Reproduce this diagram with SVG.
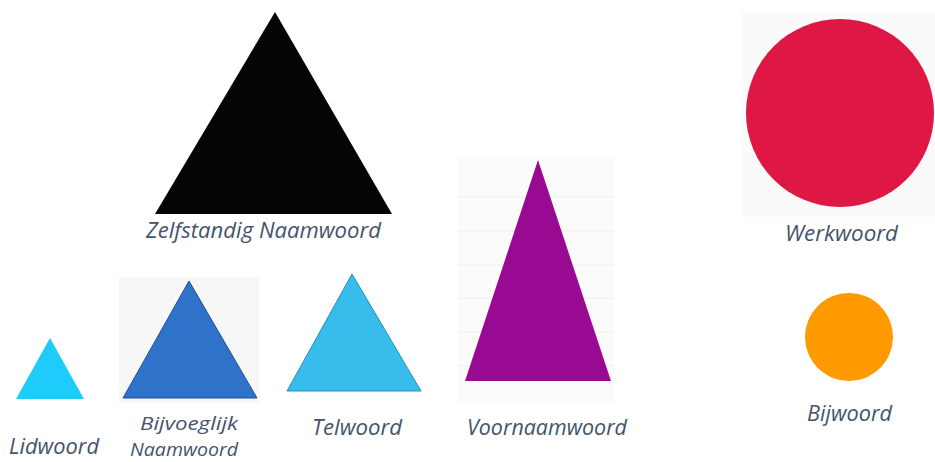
<svg xmlns="http://www.w3.org/2000/svg" width="935" height="462" viewBox="0 0 935 462">
<style>
  .lbl { font-family: "Open Sans", "Liberation Sans", sans-serif; font-style: italic; font-size: 21px; fill: #44546A; }
  .sm { font-size: 19px; }
  .bg { fill: #F7F7F7; }
  .paper-line { stroke: #EEEEEE; stroke-width: 1; }
</style>
<rect width="935" height="462" fill="#FFFFFF"/>

<g id="zelfstandig-naamwoord">
  <polygon points="275,12 155,214 392,214" fill="#050505"/>
  <text class="lbl" x="146" y="238" textLength="235" lengthAdjust="spacingAndGlyphs">Zelfstandig Naamwoord</text>
</g>

<g id="lidwoord">
  <polygon points="50,338 16,399 84,399" fill="#1FCBFB"/>
  <text class="lbl" x="9" y="454" textLength="90" lengthAdjust="spacingAndGlyphs">Lidwoord</text>
</g>

<g id="bijvoeglijk-naamwoord">
  <rect class="bg" x="119" y="277" width="140" height="126" fill="#F4F4F4"/>
  <polygon points="189,281 123,398 257,398" fill="#2E73C9" stroke="#1E4F96" stroke-width="1"/>
  <text class="lbl sm" x="140" y="430" textLength="98" lengthAdjust="spacingAndGlyphs">Bijvoeglijk</text>
  <text class="lbl sm" x="130" y="456" textLength="108" lengthAdjust="spacingAndGlyphs">Naamwoord</text>
</g>

<g id="telwoord">
  <polygon points="352,274 287,391 421,391" fill="#38BCEC" stroke="#2A8FB8" stroke-width="1"/>
  <text class="lbl" x="312" y="435" textLength="90" lengthAdjust="spacingAndGlyphs">Telwoord</text>
</g>

<g id="voornaamwoord">
  <rect x="458" y="158" width="156" height="244" fill="#FBFBFB"/>
  <g class="paper-line">
    <line x1="458" y1="197" x2="614" y2="197"/>
    <line x1="458" y1="231" x2="614" y2="231"/>
    <line x1="458" y1="265" x2="614" y2="265"/>
    <line x1="458" y1="298" x2="614" y2="298"/>
    <line x1="458" y1="332" x2="614" y2="332"/>
    <line x1="458" y1="366" x2="614" y2="366"/>
  </g>
  <polygon points="538,160 465,381 611,381" fill="#990A92"/>
  <text class="lbl" x="467" y="435" textLength="160" lengthAdjust="spacingAndGlyphs">Voornaamwoord</text>
</g>

<g id="werkwoord">
  <rect x="742" y="12" width="193" height="205" fill="#FAFAFA"/>
  <circle cx="840" cy="113" r="94" fill="#DE1744"/>
  <text class="lbl" x="785" y="241" textLength="113" lengthAdjust="spacingAndGlyphs">Werkwoord</text>
</g>

<g id="bijwoord">
  <circle cx="849" cy="337" r="44" fill="#FF9A00"/>
  <text class="lbl" x="807" y="421" textLength="85" lengthAdjust="spacingAndGlyphs">Bijwoord</text>
</g>

<g id="connectors"></g>
</svg>
